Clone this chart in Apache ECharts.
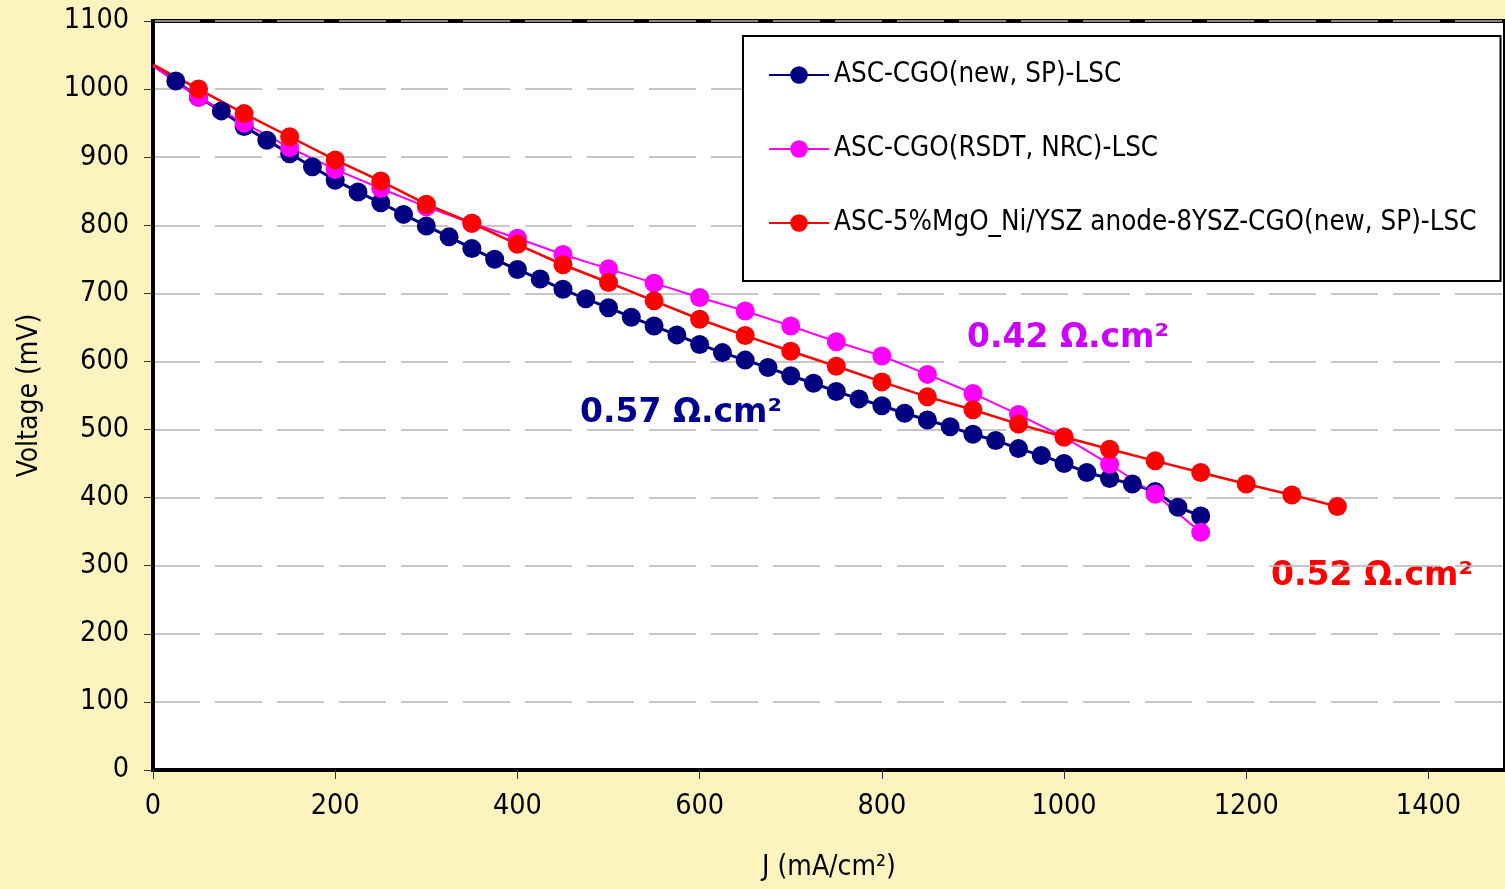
<!DOCTYPE html>
<html>
<head>
<meta charset="utf-8">
<title>Voltage vs J</title>
<script src="https://cdn.jsdelivr.net/npm/echarts@6.0.0/dist/echarts.min.js"></script>
<style>
    html, body { margin: 0; padding: 0; background: #FCF3BF; }
    #chart { width: 1505px; height: 889px; }
</style>
</head>
<body>
<div id="chart"></div>
<script>
// 各曲线数据 (J: mA/cm2, V: mV)，第一个点是 J=0 处的开路电压，不画标记
var blueName = 'ASC-CGO(new, SP)-LSC';
var blueJ = [0, 25, 50, 75, 100, 125, 150, 175, 200, 225, 250, 275, 300, 325, 350, 375, 400, 425, 450, 475, 500,
    525, 550, 575, 600, 625, 650, 675, 700, 725, 750, 775, 800, 825, 850, 875, 900, 925, 950, 975, 1000,
    1025, 1050, 1075, 1100, 1125, 1150];
var blueV = [1035, 1012, 988, 968, 945, 925, 905, 886, 866, 849, 833, 816, 799, 783, 766, 750, 735, 721, 706, 692, 679,
    665, 652, 639, 625, 613, 602, 591, 579, 568, 556, 545, 535, 524, 514, 504, 493, 484, 472, 462, 450,
    437, 428, 420, 409, 386, 373];

var pinkName = 'ASC-CGO(RSDT, NRC)-LSC';
var pinkJ = [0, 50, 100, 150, 200, 250, 300, 350, 400, 450, 500, 550, 600, 650, 700, 750, 800, 850, 900, 950, 1000,
    1050, 1100, 1150];
var pinkV = [1034, 988, 950, 914, 882, 854, 827, 803, 781, 757, 736, 715, 694, 674, 652, 629, 608, 581, 553, 522, 489,
    449, 405, 349];

var redName = 'ASC-5%MgO_Ni/YSZ anode-8YSZ-CGO(new, SP)-LSC';
var redJ = [0, 50, 100, 150, 200, 250, 300, 350, 400, 450, 500, 550, 600, 650, 700, 750, 800, 850, 900, 950, 1000,
    1050, 1100, 1150, 1200, 1250, 1300];
var redV = [1036, 1000, 964, 930, 896, 865, 831, 803, 772, 742, 716, 689, 662, 638, 615, 593, 570, 548, 529, 508, 489,
    471, 454, 437, 420, 404, 387];

// 面积比电阻标注
var asrTexts = ['0.57 Ω.cm²', '0.42 Ω.cm²', '0.52 Ω.cm²'];

var xTicks = { min: 0, max: 1484, step: 200 };
var yTicks = { min: 0, max: 1100, step: 100 };

var tickFont = 'DejaVu Sans Condensed';

/**
 * 把 J/V 两个数组拼成点，J=0 的点不画圆点
 */
function buildPoints(js, vs) {
    var pts = [];
    for (var i = 0; i < js.length; i++) {
        if (js[i] === 0) {
            pts.push({ value: [js[i], vs[i]], symbolSize: 0 });
        } else {
            pts.push([js[i], vs[i]]);
        }
    }
    return pts;
}

function makeSeries(name, js, vs, color, lw) {
    return {
        name: name,
        type: 'line',
        data: buildPoints(js, vs),
        symbol: 'circle',
        symbolSize: 19,
        showAllSymbol: true,
        lineStyle: { color: color, width: lw },
        itemStyle: { color: color },
        emphasis: { disabled: true },
        animation: false
    };
}

// 刻度不要千分位
function plainNum(v) {
    return String(v);
}

var chart = echarts.init(document.getElementById('chart'));

var option = {
    backgroundColor: '#FCF3BF',
    animation: false,
    grid: {
        left: 153,
        top: 21,
        right: -3,
        bottom: 119,
        show: true,
        backgroundColor: '#ffffff',
        borderColor: '#000000',
        borderWidth: 4
    },
    legend: {
        orient: 'vertical',
        left: 743,
        top: 36,
        padding: [25, 24, 44, 25],
        itemGap: 46,
        itemWidth: 60,
        itemHeight: 22,
        backgroundColor: '#ffffff',
        borderColor: '#000000',
        borderWidth: 2,
        textStyle: { fontFamily: tickFont, fontSize: 27.5, color: '#000000' },
        data: [blueName, pinkName, redName]
    },
    xAxis: {
        type: 'value',
        min: xTicks.min,
        max: xTicks.max,
        interval: xTicks.step,
        name: 'J (mA/cm²)',
        nameLocation: 'middle',
        nameGap: 84,
        nameTextStyle: { fontFamily: tickFont, fontSize: 28, color: '#000000' },
        axisLine: { show: true, lineStyle: { color: '#000000', width: 4 } },
        axisTick: { show: true, inside: false, length: 9, lineStyle: { color: '#333333', width: 1 } },
        axisLabel: { showMaxLabel: false, margin: 22, fontFamily: tickFont, fontSize: 28.5, color: '#000000', formatter: plainNum },
        splitLine: { show: false }
    },
    yAxis: {
        type: 'value',
        min: yTicks.min,
        max: yTicks.max,
        interval: yTicks.step,
        name: 'Voltage (mV)',
        nameLocation: 'middle',
        nameGap: 109,
        nameRotate: 90,
        nameTextStyle: { fontFamily: tickFont, fontSize: 28, color: '#000000' },
        axisLine: { show: true, lineStyle: { color: '#000000', width: 4 } },
        axisTick: { show: true, inside: false, length: 9, lineStyle: { color: '#333333', width: 1 } },
        axisLabel: { margin: 24, fontFamily: tickFont, fontSize: 28.5, color: '#000000', formatter: plainNum },
        splitLine: { show: true, lineStyle: { color: '#b4b4b4', width: 1.5, type: [47, 15] } }
    },
    graphic: [
        { type: 'text', left: 580, top: 397, style: { text: asrTexts[0], fill: '#000090', font: 'bold 33px "DejaVu Sans"' } },
        { type: 'text', left: 967, top: 322, style: { text: asrTexts[1], fill: '#CC00FF', font: 'bold 33px "DejaVu Sans"' } },
        { type: 'text', left: 1271, top: 560, style: { text: asrTexts[2], fill: '#FF0000', font: 'bold 33px "DejaVu Sans"' } }
    ],
    series: [
        makeSeries(blueName, blueJ, blueV, '#000080', 3),
        makeSeries(pinkName, pinkJ, pinkV, '#FF00FF', 2),
        makeSeries(redName, redJ, redV, '#FF0000', 2.5)
    ]
};

chart.setOption(option);
</script>
</body>
</html>
